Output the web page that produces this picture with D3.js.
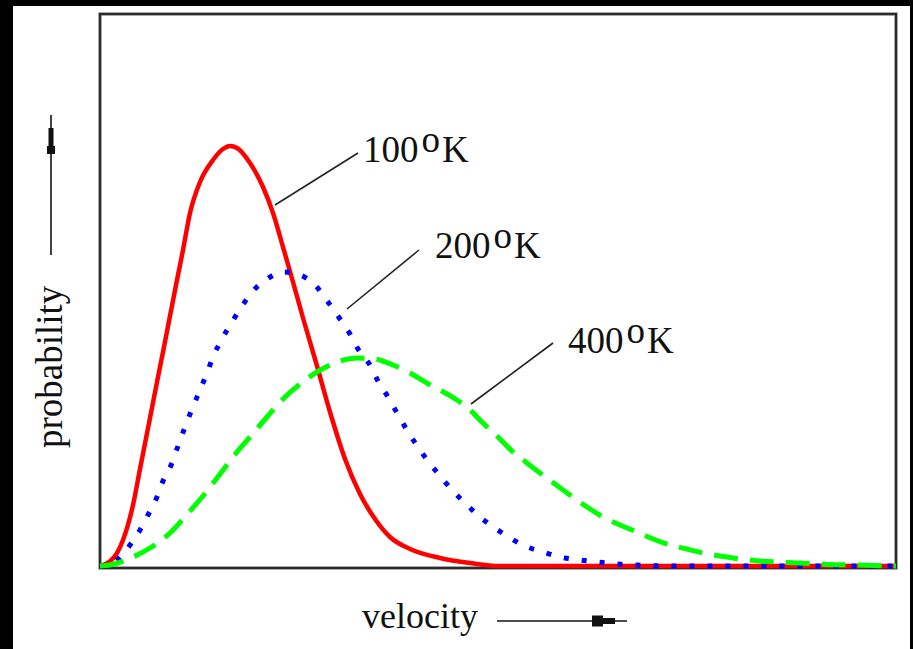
<!DOCTYPE html>
<html>
<head>
<meta charset="utf-8">
<script src="https://cdn.jsdelivr.net/npm/d3@7"></script>
<style>
  html, body { margin: 0; padding: 0; background: #000; }
  svg { display: block; }
</style>
</head>
<body>
<svg id="chart" width="913" height="649"></svg>
<script>
// ---- data (relative units) ----
const temperatures = ["100", "200", "400"];
const seriesNames = ["100K", "200K", "400K"];

const velocity100 = [0, 3, 17, 23, 33, 40, 50, 57, 63, 70, 77, 83, 90, 100, 113, 123, 130, 137, 150, 163, 173, 183, 193, 203, 217, 230, 245, 260, 275, 290, 310, 340, 370, 400, 500, 796];
const prob100 =     [0, 0.01, 0.13, 0.26, 0.61, 0.97, 1.48, 1.84, 2.14, 2.50, 2.86, 3.16, 3.53, 3.84, 4.06, 4.17, 4.20, 4.18, 4.03, 3.79, 3.53, 3.19, 2.84, 2.48, 2.00, 1.54, 1.07, 0.72, 0.47, 0.29, 0.17, 0.08, 0.03, 0, 0, 0];

const velocity200 = [0, 10, 17, 30, 40, 48, 57, 63, 72, 78, 85, 92, 100, 107, 113, 122, 132, 142, 153, 167, 183, 200, 215, 228, 240, 250, 258, 270, 278, 288, 297, 310, 325, 340, 352, 367, 380, 395, 410, 425, 443, 460, 480, 497, 517, 533, 580, 796];
const prob200 =     [0, 0.01, 0.06, 0.21, 0.36, 0.51, 0.69, 0.85, 1.03, 1.20, 1.39, 1.57, 1.76, 1.93, 2.09, 2.27, 2.44, 2.60, 2.75, 2.87, 2.94, 2.91, 2.81, 2.64, 2.47, 2.32, 2.17, 2.01, 1.85, 1.69, 1.53, 1.31, 1.09, 0.90, 0.76, 0.61, 0.49, 0.38, 0.28, 0.20, 0.14, 0.09, 0.06, 0.04, 0.02, 0.01, 0, 0];

const velocity400 = [0, 10, 33, 50, 70, 90, 103, 117, 137, 150, 167, 183, 200, 217, 228, 240, 257, 275, 293, 310, 327, 340, 357, 370, 383, 398, 413, 427, 440, 455, 470, 487, 503, 520, 537, 553, 570, 587, 603, 620, 640, 660, 677, 700, 717, 757, 796];
const prob400 =     [0, 0.01, 0.09, 0.18, 0.33, 0.55, 0.70, 0.88, 1.14, 1.29, 1.49, 1.67, 1.82, 1.94, 2.00, 2.05, 2.08, 2.07, 2.01, 1.93, 1.83, 1.76, 1.66, 1.56, 1.43, 1.29, 1.14, 1.03, 0.93, 0.82, 0.71, 0.59, 0.49, 0.41, 0.34, 0.27, 0.21, 0.17, 0.13, 0.10, 0.07, 0.05, 0.04, 0.03, 0.02, 0.01, 0];

const axisLabelX = "velocity";
const axisLabelY = "probability";
const unitLabel = "K";

// ---- layout ----
const svg = d3.select("#chart");
const W = 913, H = 649;

svg.append("rect").attr("x", 0).attr("y", 0).attr("width", W).attr("height", H).attr("fill", "#000");
svg.append("rect").attr("x", 13).attr("y", 6).attr("width", 897).attr("height", 643).attr("fill", "#fff");

const x = d3.scaleLinear().domain([0, 796]).range([100, 896]);
const y = d3.scaleLinear().domain([0, 5.52]).range([566, 14]);

// frame
svg.append("rect")
  .attr("x", x.range()[0]).attr("y", y.range()[1])
  .attr("width", x.range()[1] - x.range()[0])
  .attr("height", y(0) + 2 - y.range()[1])
  .attr("fill", "none").attr("stroke", "#8a8a8a").attr("stroke-width", 3.5);
svg.append("rect")
  .attr("x", x.range()[0]).attr("y", y.range()[1])
  .attr("width", x.range()[1] - x.range()[0])
  .attr("height", y(0) + 2 - y.range()[1])
  .attr("fill", "none").attr("stroke", "#222").attr("stroke-width", 1.8);

const line = d3.line().x(d => x(d[0])).y(d => y(d[1])).curve(d3.curveMonotoneX);

const series = [
  { name: seriesNames[0], v: velocity100, p: prob100, color: "#ff0000", width: 4.5, dash: null },
  { name: seriesNames[1], v: velocity200, p: prob200, color: "#0000ff", width: 5, dash: "5,13" },
  { name: seriesNames[2], v: velocity400, p: prob400, color: "#00ff00", width: 5, dash: "24,12" }
];

const plot = svg.append("g");
series.forEach(s => {
  plot.append("path")
    .datum(s.v.map((v, i) => [v, s.p[i]]))
    .attr("d", line)
    .attr("fill", "none")
    .attr("stroke", s.color)
    .attr("stroke-width", s.width)
    .attr("stroke-dasharray", s.dash)
    .attr("stroke-linejoin", "round");
});

// annotations (label anchor and leader line in data units)
const annot = [
  { t: temperatures[0], tx: 263, ty: 4.04, l: [[258, 4.13], [175, 3.61]] },
  { t: temperatures[1], tx: 335, ty: 3.08, l: [[319, 3.16], [247, 2.57]] },
  { t: temperatures[2], tx: 468, ty: 2.13, l: [[453, 2.23], [371, 1.62]] }
];
const font = "'Liberation Serif', 'Times New Roman', serif";
annot.forEach(a => {
  svg.append("line")
    .attr("x1", x(a.l[0][0])).attr("y1", y(a.l[0][1]))
    .attr("x2", x(a.l[1][0])).attr("y2", y(a.l[1][1]))
    .attr("stroke", "#222").attr("stroke-width", 1.6);
  const t = svg.append("text")
    .attr("x", x(a.tx)).attr("y", y(a.ty))
    .attr("font-family", font).attr("font-size", 37).attr("fill", "#111");
  t.append("tspan").text(a.t);
  t.append("tspan").attr("dx", 3).attr("dy", -10).text("o");
  t.append("tspan").attr("dx", 2).attr("dy", 10).text(unitLabel);
});

// x axis label with arrow
svg.append("text")
  .attr("x", 362).attr("y", 628)
  .attr("font-family", font).attr("font-size", 36).attr("fill", "#111")
  .text(axisLabelX);
svg.append("line").attr("x1", 497).attr("y1", 621).attr("x2", 627).attr("y2", 621)
  .attr("stroke", "#111").attr("stroke-width", 1.6);
svg.append("path")
  .attr("d", "M592,615.5 L603,615.5 L603,618 L615,618 L615,624 L603,624 L603,626.5 L592,626.5 Z")
  .attr("fill", "#111");

// y axis label with arrow
svg.append("text")
  .attr("transform", "translate(62,448) rotate(-90)")
  .attr("font-family", font).attr("font-size", 37).attr("fill", "#111")
  .text(axisLabelY);
svg.append("line").attr("x1", 51).attr("y1", 255).attr("x2", 51).attr("y2", 115)
  .attr("stroke", "#111").attr("stroke-width", 1.6);
svg.append("path")
  .attr("d", "M47,154 L47,146 L48.5,146 L48.5,128 L53.5,128 L53.5,146 L55,146 L55,154 Z")
  .attr("fill", "#111");
</script>
</body>
</html>
